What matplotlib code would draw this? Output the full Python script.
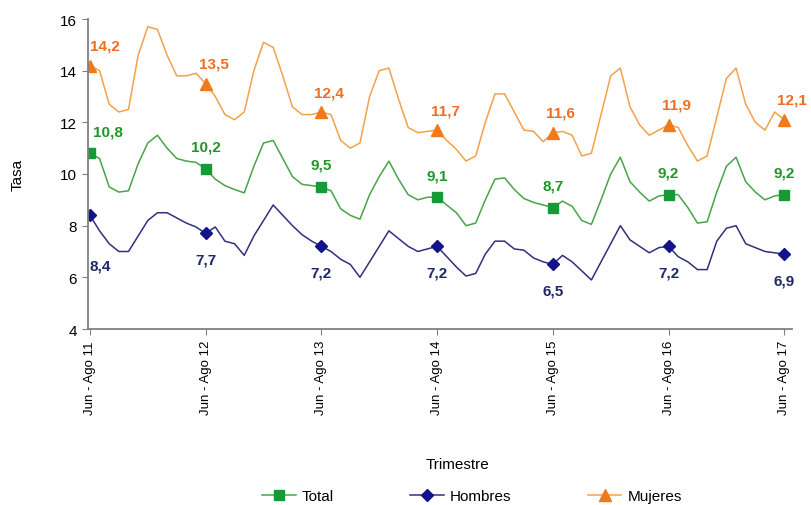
import matplotlib
matplotlib.use('Agg')
import matplotlib.pyplot as plt
import numpy as np

plt.rcParams['font.family'] = ['Liberation Sans', 'DejaVu Sans']

# datos (trimestres móviles, Jun-Ago 11 a Jun-Ago 17)
trimestres = ['Jun - Ago 11', 'Jun - Ago 12', 'Jun - Ago 13', 'Jun - Ago 14',
              'Jun - Ago 15', 'Jun - Ago 16', 'Jun - Ago 17']

mujeres = [14.2, 14.0, 12.7, 12.4, 12.5, 14.6, 15.7, 15.6, 14.6, 13.8, 13.8, 13.9,
           13.5, 13.0, 12.3, 12.1, 12.4, 14.0, 15.1, 14.9, 13.8, 12.6, 12.3, 12.3,
           12.4, 12.3, 11.3, 11.0, 11.2, 13.0, 14.0, 14.1, 12.9, 11.8, 11.6, 11.65,
           11.7, 11.3, 10.95, 10.5, 10.7, 12.0, 13.1, 13.1, 12.4, 11.7, 11.65, 11.25,
           11.6, 11.65, 11.5, 10.7, 10.8, 12.3, 13.8, 14.1, 12.6, 11.9, 11.5, 11.7,
           11.9, 11.8, 11.1, 10.5, 10.7, 12.2, 13.7, 14.1, 12.7, 12.0, 11.7, 12.4, 12.1]

total = [10.8, 10.6, 9.5, 9.3, 9.35, 10.4, 11.2, 11.5, 11.0, 10.6, 10.5, 10.45,
         10.2, 9.8, 9.55, 9.4, 9.27, 10.3, 11.2, 11.3, 10.6, 9.9, 9.6, 9.55,
         9.5, 9.35, 8.65, 8.4, 8.25, 9.2, 9.9, 10.5, 9.8, 9.2, 9.0, 9.1,
         9.1, 8.8, 8.5, 8.0, 8.1, 9.0, 9.8, 9.85, 9.4, 9.05, 8.9, 8.8,
         8.7, 8.95, 8.75, 8.2, 8.05, 9.0, 10.0, 10.65, 9.7, 9.3, 8.95, 9.15,
         9.2, 9.2, 8.7, 8.1, 8.15, 9.3, 10.3, 10.65, 9.7, 9.3, 9.0, 9.15, 9.2]

hombres = [8.4, 7.8, 7.3, 7.0, 7.0, 7.6, 8.2, 8.5, 8.5, 8.3, 8.1, 7.95,
           7.7, 7.95, 7.4, 7.3, 6.85, 7.6, 8.2, 8.8, 8.4, 8.0, 7.65, 7.4,
           7.2, 7.0, 6.7, 6.5, 6.0, 6.6, 7.2, 7.8, 7.5, 7.2, 7.0, 7.1,
           7.2, 6.8, 6.4, 6.05, 6.15, 6.9, 7.4, 7.4, 7.1, 7.05, 6.75, 6.6,
           6.5, 6.85, 6.6, 6.25, 5.9, 6.6, 7.3, 8.0, 7.45, 7.2, 6.95, 7.15,
           7.2, 6.8, 6.6, 6.3, 6.3, 7.4, 7.9, 8.0, 7.3, 7.15, 7.0, 6.95, 6.9]

# valores rotulados en cada Jun-Ago
etiq_mujeres = ['14,2', '13,5', '12,4', '11,7', '11,6', '11,9', '12,1']
etiq_total = ['10,8', '10,2', '9,5', '9,1', '8,7', '9,2', '9,2']
etiq_hombres = ['8,4', '7,7', '7,2', '7,2', '6,5', '7,2', '6,9']

x = np.arange(len(total))
pos_ticks = x[::12]

fig = plt.figure(figsize=(8.11, 5.06), dpi=100)
ax = fig.add_axes([88/811, 1 - 330/506, (792 - 88)/811, (330 - 20)/506])

c_muj, c_muj_m = '#F5A04A', '#F07A1A'
c_tot, c_tot_m = '#48A448', '#169A36'
c_hom, c_hom_m = '#30307E', '#14148A'

ax.plot(x, total, color=c_tot, lw=1.1, marker='s', markevery=12, ms=7,
        mfc=c_tot_m, mec=c_tot_m, label='Total')
ax.plot(x, hombres, color=c_hom, lw=1.1, marker='D', markevery=12, ms=6,
        mfc=c_hom_m, mec=c_hom_m, label='Hombres')
ax.plot(x, mujeres, color=c_muj, lw=1.1, marker='^', markevery=12, ms=8,
        mfc=c_muj_m, mec=c_muj_m, label='Mujeres')

# rótulos de valores
for i, p in enumerate(pos_ticks):
    dx = 15 if i == 0 else 8
    ax.annotate(etiq_mujeres[i], (p, mujeres[p]), xytext=(dx, 20),
                textcoords='offset pixels', ha='center', va='center',
                color='#EE6E22', fontsize=11, fontweight='bold')
    dx = 18 if i == 0 else 0
    ax.annotate(etiq_total[i], (p, total[p]), xytext=(dx, 22),
                textcoords='offset pixels', ha='center', va='center',
                color='#21962B', fontsize=11, fontweight='bold')
    dx, dy = (10, -50) if i == 0 else (0, -26)
    ax.annotate(etiq_hombres[i], (p, hombres[p]), xytext=(dx, dy),
                textcoords='offset pixels', ha='center', va='center',
                color='#1E2868', fontsize=11, fontweight='bold')

ax.set_xlim(-0.2, 72.8)
ax.set_ylim(4, 16)
ax.set_yticks([4, 6, 8, 10, 12, 14, 16])
ax.set_xticks(pos_ticks)
ax.set_xticklabels(trimestres, rotation=90, fontsize=9.5)
ax.tick_params(axis='y', labelsize=11, length=4, color='#808080', pad=4)
ax.tick_params(axis='x', length=4, color='#808080', pad=4)

for s in ['top', 'right']:
    ax.spines[s].set_visible(False)
for s in ['left', 'bottom']:
    ax.spines[s].set_color('#808080')
    ax.spines[s].set_linewidth(1.3)

fig.text(18/811, 1 - 175/506, 'Tasa', rotation=90, ha='center', va='center', fontsize=11)
fig.text(457/811, 1 - 465/506, 'Trimestre', ha='center', va='center', fontsize=11)

fig.legend(loc='center', bbox_to_anchor=(472/811, 1 - 497/506), ncol=3,
           frameon=False, fontsize=11, handlelength=2.2, columnspacing=5.0,
           handletextpad=0.4)

fig.savefig('out.png', dpi=100)
